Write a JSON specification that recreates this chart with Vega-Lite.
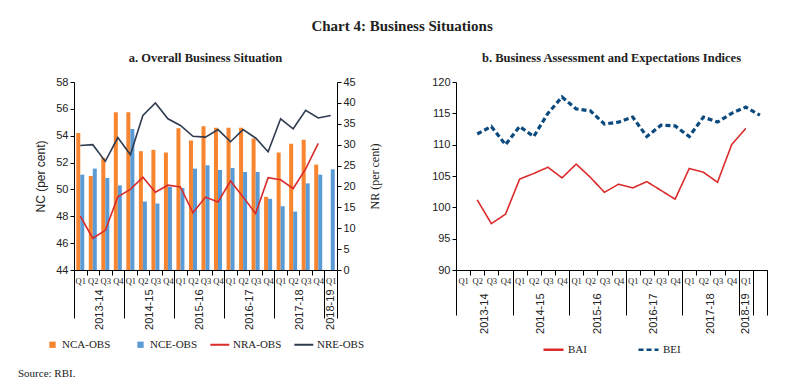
{
  "$schema": "https://vega.github.io/schema/vega-lite/v6.json",
  "padding": {"left": 18, "top": 18, "right": 5, "bottom": 2},
  "background": "white",
  "title": {"text": "Chart 4: Business Situations", "font": "Liberation Serif", "fontSize": 15, "fontWeight": "bold", "anchor": "middle", "color": "#222", "offset": 18},
  "config": {
    "view": {"stroke": null},
    "axis": {"domainColor": "#000", "tickColor": "#000", "labelColor": "#222", "grid": false, "labelFont": "Liberation Sans", "labelFontSize": 11, "titleFont": "Liberation Sans", "titleFontSize": 12, "titleFontWeight": "normal", "titleColor": "#222", "tickSize": 4},
    "legend": {"labelFont": "Liberation Serif", "labelFontSize": 11, "labelColor": "#222", "orient": "bottom", "direction": "horizontal", "offset": 9, "layout": {"bottom": {"anchor": "middle", "direction": "horizontal", "margin": 10}}},
    "title": {"font": "Liberation Serif", "fontWeight": "bold", "fontSize": 12.5, "color": "#222"}
  },
  "datasets": {
    "left": [
      {"q": "2013-14 Q1", "NCA": 54.2, "NCE": 51.1, "NRA": 12.9, "NRE": 29.8},
      {"q": "2013-14 Q2", "NCA": 51.0, "NCE": 51.55, "NRA": 7.6, "NRE": 30.0},
      {"q": "2013-14 Q3", "NCA": 52.35, "NCE": 50.85, "NRA": 9.5, "NRE": 26.0},
      {"q": "2013-14 Q4", "NCA": 55.75, "NCE": 50.3, "NRA": 17.5, "NRE": 31.7},
      {"q": "2014-15 Q1", "NCA": 55.75, "NCE": 54.5, "NRA": 19.3, "NRE": 27.6},
      {"q": "2014-15 Q2", "NCA": 52.85, "NCE": 49.1, "NRA": 22.2, "NRE": 37.0},
      {"q": "2014-15 Q3", "NCA": 52.95, "NCE": 48.95, "NRA": 18.6, "NRE": 40.0},
      {"q": "2014-15 Q4", "NCA": 52.75, "NCE": 50.2, "NRA": 20.3, "NRE": 36.2},
      {"q": "2015-16 Q1", "NCA": 54.55, "NCE": 50.1, "NRA": 19.9, "NRE": 34.6},
      {"q": "2015-16 Q2", "NCA": 53.65, "NCE": 51.55, "NRA": 13.7, "NRE": 32.0},
      {"q": "2015-16 Q3", "NCA": 54.7, "NCE": 51.8, "NRA": 17.45, "NRE": 31.8},
      {"q": "2015-16 Q4", "NCA": 54.6, "NCE": 51.45, "NRA": 16.3, "NRE": 33.6},
      {"q": "2016-17 Q1", "NCA": 54.6, "NCE": 51.6, "NRA": 21.3, "NRE": 30.7},
      {"q": "2016-17 Q2", "NCA": 54.6, "NCE": 51.3, "NRA": 17.5, "NRE": 33.6},
      {"q": "2016-17 Q3", "NCA": 53.8, "NCE": 51.3, "NRA": 13.5, "NRE": 31.6},
      {"q": "2016-17 Q4", "NCA": 49.45, "NCE": 49.3, "NRA": 22.1, "NRE": 28.3},
      {"q": "2017-18 Q1", "NCA": 52.75, "NCE": 48.75, "NRA": 21.6, "NRE": 36.2},
      {"q": "2017-18 Q2", "NCA": 53.4, "NCE": 48.35, "NRA": 19.5, "NRE": 33.8},
      {"q": "2017-18 Q3", "NCA": 53.7, "NCE": 50.45, "NRA": 24.2, "NRE": 38.2},
      {"q": "2017-18 Q4", "NCA": 51.85, "NCE": 51.1, "NRA": 30.3, "NRE": 36.4},
      {"q": "2018-19 Q1", "NCA": null, "NCE": 51.5, "NRA": null, "NRE": 37.0}
    ],
    "right": [
      {"q": "2013-14 Q1", "BAI": null, "BEI": null},
      {"q": "2013-14 Q2", "BAI": 101.2, "BEI": 111.7},
      {"q": "2013-14 Q3", "BAI": 97.4, "BEI": 112.9},
      {"q": "2013-14 Q4", "BAI": 98.9, "BEI": 110.0},
      {"q": "2014-15 Q1", "BAI": 104.5, "BEI": 112.9},
      {"q": "2014-15 Q2", "BAI": 105.4, "BEI": 111.3},
      {"q": "2014-15 Q3", "BAI": 106.4, "BEI": 115.0},
      {"q": "2014-15 Q4", "BAI": 104.7, "BEI": 117.6},
      {"q": "2015-16 Q1", "BAI": 106.9, "BEI": 115.7},
      {"q": "2015-16 Q2", "BAI": 104.8, "BEI": 115.4},
      {"q": "2015-16 Q3", "BAI": 102.4, "BEI": 113.3},
      {"q": "2015-16 Q4", "BAI": 103.7, "BEI": 113.6},
      {"q": "2016-17 Q1", "BAI": 103.1, "BEI": 114.4},
      {"q": "2016-17 Q2", "BAI": 104.1, "BEI": 111.3},
      {"q": "2016-17 Q3", "BAI": 102.7, "BEI": 113.1},
      {"q": "2016-17 Q4", "BAI": 101.3, "BEI": 113.0},
      {"q": "2017-18 Q1", "BAI": 106.2, "BEI": 111.3},
      {"q": "2017-18 Q2", "BAI": 105.6, "BEI": 114.4},
      {"q": "2017-18 Q3", "BAI": 104.0, "BEI": 113.6},
      {"q": "2017-18 Q4", "BAI": 110.0, "BEI": 115.0},
      {"q": "2018-19 Q1", "BAI": 112.6, "BEI": 116.0},
      {"q": "2018-19 Q2", "BAI": null, "BEI": 114.7}
    ],
    "source": [{"s": "Source: RBI."}]
  },
  "vconcat": [
    {
      "hconcat": [
        {
          "title": {"text": "a. Overall Business Situation", "offset": 12},
          "width": 263,
          "height": 188,
          "data": {"name": "left"},
          "layer": [
            {
              "transform": [{"fold": ["NCA", "NCE"], "as": ["series", "nc"]}],
              "mark": {"type": "bar"},
              "encoding": {
                "x": {"field": "q", "type": "nominal", "sort": null,
                  "scale": {"type": "band", "paddingInner": 0, "paddingOuter": 0, "domain": ["2013-14 Q1","2013-14 Q2","2013-14 Q3","2013-14 Q4","2014-15 Q1","2014-15 Q2","2014-15 Q3","2014-15 Q4","2015-16 Q1","2015-16 Q2","2015-16 Q3","2015-16 Q4","2016-17 Q1","2016-17 Q2","2016-17 Q3","2016-17 Q4","2017-18 Q1","2017-18 Q2","2017-18 Q3","2017-18 Q4","2018-19 Q1"]},
                  "axis": {"orient": "bottom", "title": null, "tickBand": "extent", "tickSize": 5, "labelAngle": 0, "labelFont": "Liberation Serif", "labelFontSize": 8.5, "labelPadding": 1, "labelOverlap": false, "labelExpr": "datum.value ? slice(datum.value, -2) : ''"}},
                "xOffset": {"field": "series", "type": "nominal", "scale": {"paddingOuter": 0.56, "paddingInner": 0}},
                "y": {"field": "nc", "type": "quantitative", "scale": {"domain": [44, 58], "zero": false, "nice": false},
                  "axis": {"title": "NC (per cent)", "values": [44, 46, 48, 50, 52, 54, 56, 58], "orient": "left", "titlePadding": 8}},
                "y2": {"datum": 44},
                "color": {"field": "series", "type": "nominal", "scale": {"domain": ["NCA", "NCE"], "range": ["#F7852F", "#5B9BD5"]},
                  "legend": {"title": null, "labelExpr": "datum.label + '-OBS'", "symbolType": "square", "symbolSize": 40, "columnPadding": 24, "labelOffset": 4, "symbolStrokeWidth": 0}}
              }
            },
            {
              "transform": [{"fold": ["NRA", "NRE"], "as": ["series2", "nr"]}],
              "mark": {"type": "line", "strokeWidth": 1.6},
              "encoding": {
                "x": {"field": "q", "type": "nominal", "sort": null,
                  "scale": {"type": "band", "paddingInner": 0, "paddingOuter": 0, "domain": ["2013-14 Q1","2013-14 Q2","2013-14 Q3","2013-14 Q4","2014-15 Q1","2014-15 Q2","2014-15 Q3","2014-15 Q4","2015-16 Q1","2015-16 Q2","2015-16 Q3","2015-16 Q4","2016-17 Q1","2016-17 Q2","2016-17 Q3","2016-17 Q4","2017-18 Q1","2017-18 Q2","2017-18 Q3","2017-18 Q4","2018-19 Q1"]},
                  "axis": {"orient": "bottom", "title": null, "domain": false, "tickBand": "extent", "tickSize": 48,
                    "tickOpacity": {"condition": {"test": "datum.extra || (datum.value && (slice(datum.value, -2) == 'Q4' || datum.value == '2018-19 Q1'))", "value": 1}, "value": 0},
                    "labelAngle": -90, "labelPadding": -29, "labelOverlap": false,
                    "labelExpr": "datum.value && slice(datum.value, -2) == 'Q1' ? slice(datum.value, 0, 7) : ''",
                    "labelOffset": {"condition": {"test": "datum.value == '2018-19 Q1'", "value": 0}, "value": 18.79}}},
                "y": {"field": "nr", "type": "quantitative", "scale": {"domain": [0, 45], "nice": false},
                  "axis": {"orient": "right", "title": "NR (per cent)", "values": [0, 5, 10, 15, 20, 25, 30, 35, 40, 45], "titleFont": "Liberation Serif", "titleAngle": -90, "titleBaseline": "top", "titlePadding": 14}},
                "color": {"field": "series2", "type": "nominal", "scale": {"domain": ["NRA", "NRE"], "range": ["#D92B2B", "#2F3B50"]},
                  "legend": {"title": null, "labelExpr": "datum.label + '-OBS'", "symbolType": "M-1,0H5", "symbolSize": 40, "symbolStrokeWidth": 2, "labelOffset": 14, "columnPadding": 8}}
              }
            }
          ],
          "resolve": {"scale": {"y": "independent", "color": "independent"}, "axis": {"x": "independent"}}
        },
        {
          "title": {"text": "b. Business Assessment and Expectations Indices", "offset": 12},
          "width": 311,
          "height": 188,
          "data": {"name": "right"},
          "layer": [
            {
              "transform": [{"fold": ["BAI", "BEI"], "as": ["index", "val"]}, {"filter": "datum.index == 'BAI'"}],
              "mark": {"type": "line", "strokeWidth": 1.6},
              "encoding": {
                "x": {"field": "q", "type": "nominal", "sort": null,
                  "scale": {"type": "band", "paddingInner": 0, "paddingOuter": 0, "domain": ["2013-14 Q1","2013-14 Q2","2013-14 Q3","2013-14 Q4","2014-15 Q1","2014-15 Q2","2014-15 Q3","2014-15 Q4","2015-16 Q1","2015-16 Q2","2015-16 Q3","2015-16 Q4","2016-17 Q1","2016-17 Q2","2016-17 Q3","2016-17 Q4","2017-18 Q1","2017-18 Q2","2017-18 Q3","2017-18 Q4","2018-19 Q1","2018-19 Q2"]},
                  "axis": {"orient": "bottom", "title": null, "tickBand": "extent", "tickSize": 5, "labelAngle": 0, "labelFont": "Liberation Serif", "labelFontSize": 8.5, "labelPadding": 1, "labelOverlap": false, "labelExpr": "datum.value && datum.value != '2018-19 Q2' ? slice(datum.value, -2) : ''"}},
                "y": {"field": "val", "type": "quantitative", "scale": {"domain": [90, 120], "zero": false, "nice": false},
                  "axis": {"title": null, "values": [90, 95, 100, 105, 110, 115, 120]}},
                "color": {"field": "index", "type": "nominal", "scale": {"domain": ["BAI", "BEI"], "range": ["#DB2B2B", "#0B4A7E"]},
                  "legend": {"title": null, "symbolType": "stroke", "symbolSize": 400, "symbolStrokeWidth": 2.5, "columnPadding": 46, "labelOffset": 3, "offset": 4}},
                "strokeDash": {"field": "index", "type": "nominal", "scale": {"domain": ["BAI", "BEI"], "range": [[1, 0], [5, 3]]},
                  "legend": {"title": null, "symbolType": "stroke", "symbolSize": 400, "symbolStrokeWidth": 2.5, "columnPadding": 46, "labelOffset": 3, "offset": 4}}
              }
            },
            {
              "transform": [{"fold": ["BAI", "BEI"], "as": ["index", "val"]}, {"filter": "datum.index == 'BEI'"}],
              "mark": {"type": "line", "strokeWidth": 3.2},
              "encoding": {
                "x": {"field": "q", "type": "nominal", "sort": null,
                  "scale": {"type": "band", "paddingInner": 0, "paddingOuter": 0, "domain": ["2013-14 Q1","2013-14 Q2","2013-14 Q3","2013-14 Q4","2014-15 Q1","2014-15 Q2","2014-15 Q3","2014-15 Q4","2015-16 Q1","2015-16 Q2","2015-16 Q3","2015-16 Q4","2016-17 Q1","2016-17 Q2","2016-17 Q3","2016-17 Q4","2017-18 Q1","2017-18 Q2","2017-18 Q3","2017-18 Q4","2018-19 Q1","2018-19 Q2"]},
                  "axis": {"orient": "bottom", "title": null, "domain": false, "tickBand": "extent", "tickSize": 45,
                    "tickOpacity": {"condition": {"test": "datum.extra || (datum.value && (slice(datum.value, -2) == 'Q4' || slice(datum.value, 0, 7) == '2018-19'))", "value": 1}, "value": 0},
                    "labelAngle": -90, "labelPadding": -22, "labelOverlap": false,
                    "labelExpr": "datum.value && slice(datum.value, -2) == 'Q1' ? slice(datum.value, 0, 7) : ''",
                    "labelOffset": {"condition": {"test": "datum.value == '2018-19 Q1'", "value": 0}, "value": 21.2}}},
                "y": {"field": "val", "type": "quantitative", "scale": {"domain": [90, 120], "zero": false, "nice": false},
                  "axis": {"title": null, "values": [90, 95, 100, 105, 110, 115, 120]}},
                "color": {"field": "index", "type": "nominal", "scale": {"domain": ["BAI", "BEI"], "range": ["#DB2B2B", "#0B4A7E"]},
                  "legend": {"title": null, "symbolType": "stroke", "symbolSize": 400, "symbolStrokeWidth": 2.5, "columnPadding": 46, "labelOffset": 3, "offset": 4}},
                "strokeDash": {"field": "index", "type": "nominal", "scale": {"domain": ["BAI", "BEI"], "range": [[1, 0], [5, 3]]},
                  "legend": {"title": null, "symbolType": "stroke", "symbolSize": 400, "symbolStrokeWidth": 2.5, "columnPadding": 46, "labelOffset": 3, "offset": 4}}
              }
            }
          ],
          "resolve": {"axis": {"x": "independent"}}
        }
      ],
      "resolve": {"scale": {"color": "independent", "strokeDash": "independent"}, "legend": {"color": "independent", "strokeDash": "independent"}},
      "spacing": 50
    },
    {
      "width": 1,
      "height": 1,
      "data": {"name": "source"},
      "mark": {"type": "text", "align": "left", "baseline": "middle", "font": "Liberation Serif", "fontSize": 11, "dx": -56.5, "color": "#222"},
      "encoding": {"text": {"field": "s"}}
    }
  ],
  "resolve": {"scale": {"color": "independent", "strokeDash": "independent"}, "legend": {"color": "independent", "strokeDash": "independent"}},
  "spacing": 12
}
